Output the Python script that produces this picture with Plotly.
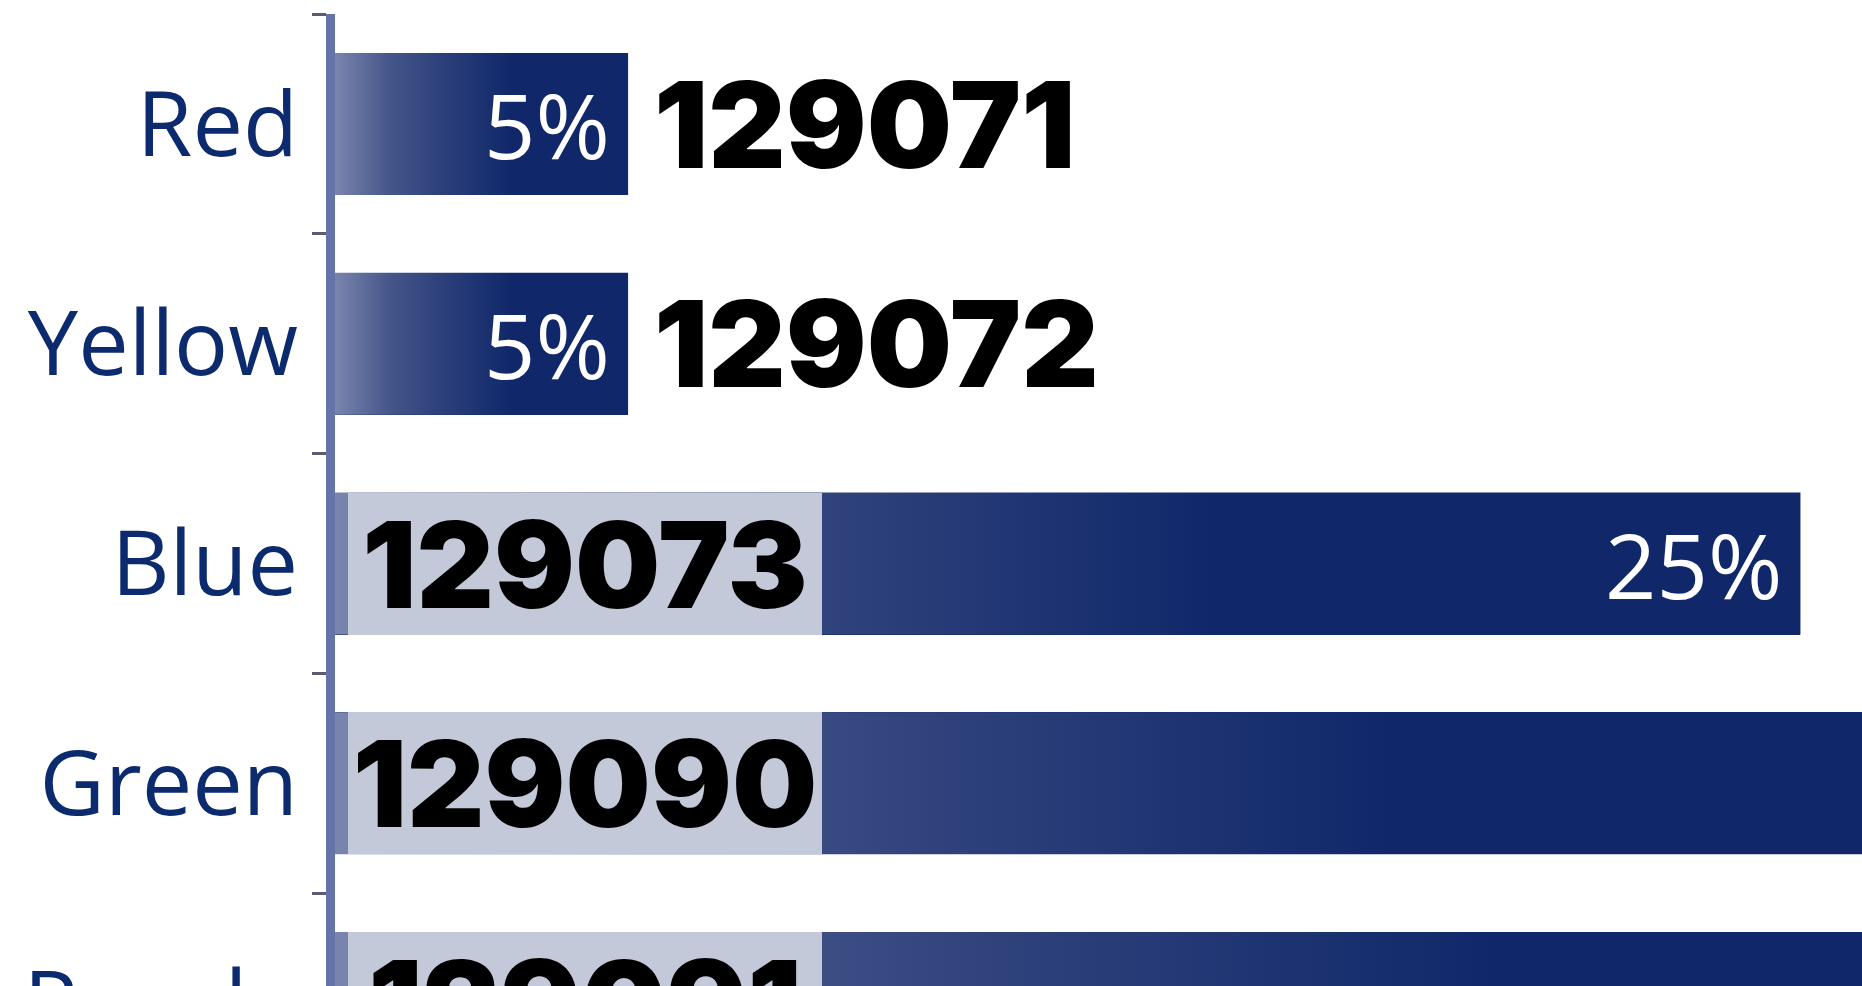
import plotly.graph_objects as go

# ---- data ----
categories = ["Red", "Yellow", "Blue", "Green", "Purple"]
percent = [5, 5, 25, 30, 33]
pct_labels = ["5%", "5%", "25%", "30%", "33%"]
codes = ["129071", "129072", "129073", "129090", "129091"]

# ---- style ----
DARK = "#10286a"
GRADIENT = [[0, "#7a85ad"], [0.18, "#46578b"], [0.35, "#2e417b"], [0.6, DARK], [1, DARK]]
GRAY_BOX = "#c3c9d9"
AXIS = "#6474a8"
NAVY_TEXT = "#0c2a6e"
BAR_W = 0.646
INSIDE_MIN = 10  # bars at least this long carry their code label inside

idx = list(range(len(categories)))

fig = go.Figure()

# base bars
fig.add_trace(go.Bar(
    x=percent, y=idx, orientation="h", width=BAR_W,
    marker=dict(color=DARK, line=dict(width=0)),
    showlegend=False, hoverinfo="skip",
))

# gradient shading of each bar (light at base -> dark)
for i, v in zip(idx, percent):
    h = BAR_W / 2
    fig.add_trace(go.Scatter(
        x=[0, v, v, 0, 0], y=[i - h, i - h, i + h, i + h, i - h],
        mode="none", fill="toself",
        fillgradient=dict(type="horizontal", start=0, stop=v, colorscale=GRADIENT),
        showlegend=False, hoverinfo="skip",
    ))

CODE_FONT = dict(family="Inter, Liberation Sans, Arial", size=120, color="#000000", weight=900)
annotations = []
for i, v, code, pl in zip(idx, percent, codes, pct_labels):
    if v >= INSIDE_MIN:
        annotations.append(dict(
            x=0, y=i, xref="x", yref="y",
            xanchor="left", yanchor="middle", xshift=13,
            text=code, showarrow=False,
            width=474, height=142, align="center", valign="middle",
            borderpad=0, borderwidth=0, bgcolor=GRAY_BOX,
            font=CODE_FONT,
        ))
    else:
        annotations.append(dict(
            x=v, y=i, xref="x", yref="y",
            xanchor="left", yanchor="middle", xshift=24,
            text=code, showarrow=False, font=CODE_FONT,
        ))
    annotations.append(dict(
        x=v, y=i, xref="x", yref="y",
        xanchor="right", yanchor="middle", xshift=-16,
        text=pl, showarrow=False,
        font=dict(family="Open Sans, Noto Sans, sans-serif", size=90, color="#ffffff"),
    ))

boundaries = [i - 0.5 for i in range(len(categories) + 1)]

fig.update_layout(
    width=1862, height=1113,
    margin=dict(l=335, r=0, t=14, b=0, pad=0),
    paper_bgcolor="white", plot_bgcolor="white",
    showlegend=False,
    bargap=0,
    annotations=annotations,
    xaxis=dict(range=[0, 26.05], visible=False, fixedrange=True),
    yaxis=dict(
        range=[4.5, -0.5005],
        tickmode="array", tickvals=idx, ticktext=categories,
        ticks="outside", ticklen=10, tickcolor="rgba(0,0,0,0)",
        tickfont=dict(family="Open Sans, Noto Sans, sans-serif", size=90, color=NAVY_TEXT),
        showline=True, linewidth=9, linecolor=AXIS,
        showgrid=False, zeroline=False,
        minor=dict(tickvals=boundaries, ticks="outside", ticklen=14,
                   tickwidth=3, tickcolor="#5b5d6e", showgrid=False),
    ),
)

fig.write_html(
    "out.html",
    config={"displayModeBar": False},
    post_script="document.body.style.margin='0';document.body.style.overflow='hidden';"
                "document.documentElement.style.overflow='hidden';",
)
